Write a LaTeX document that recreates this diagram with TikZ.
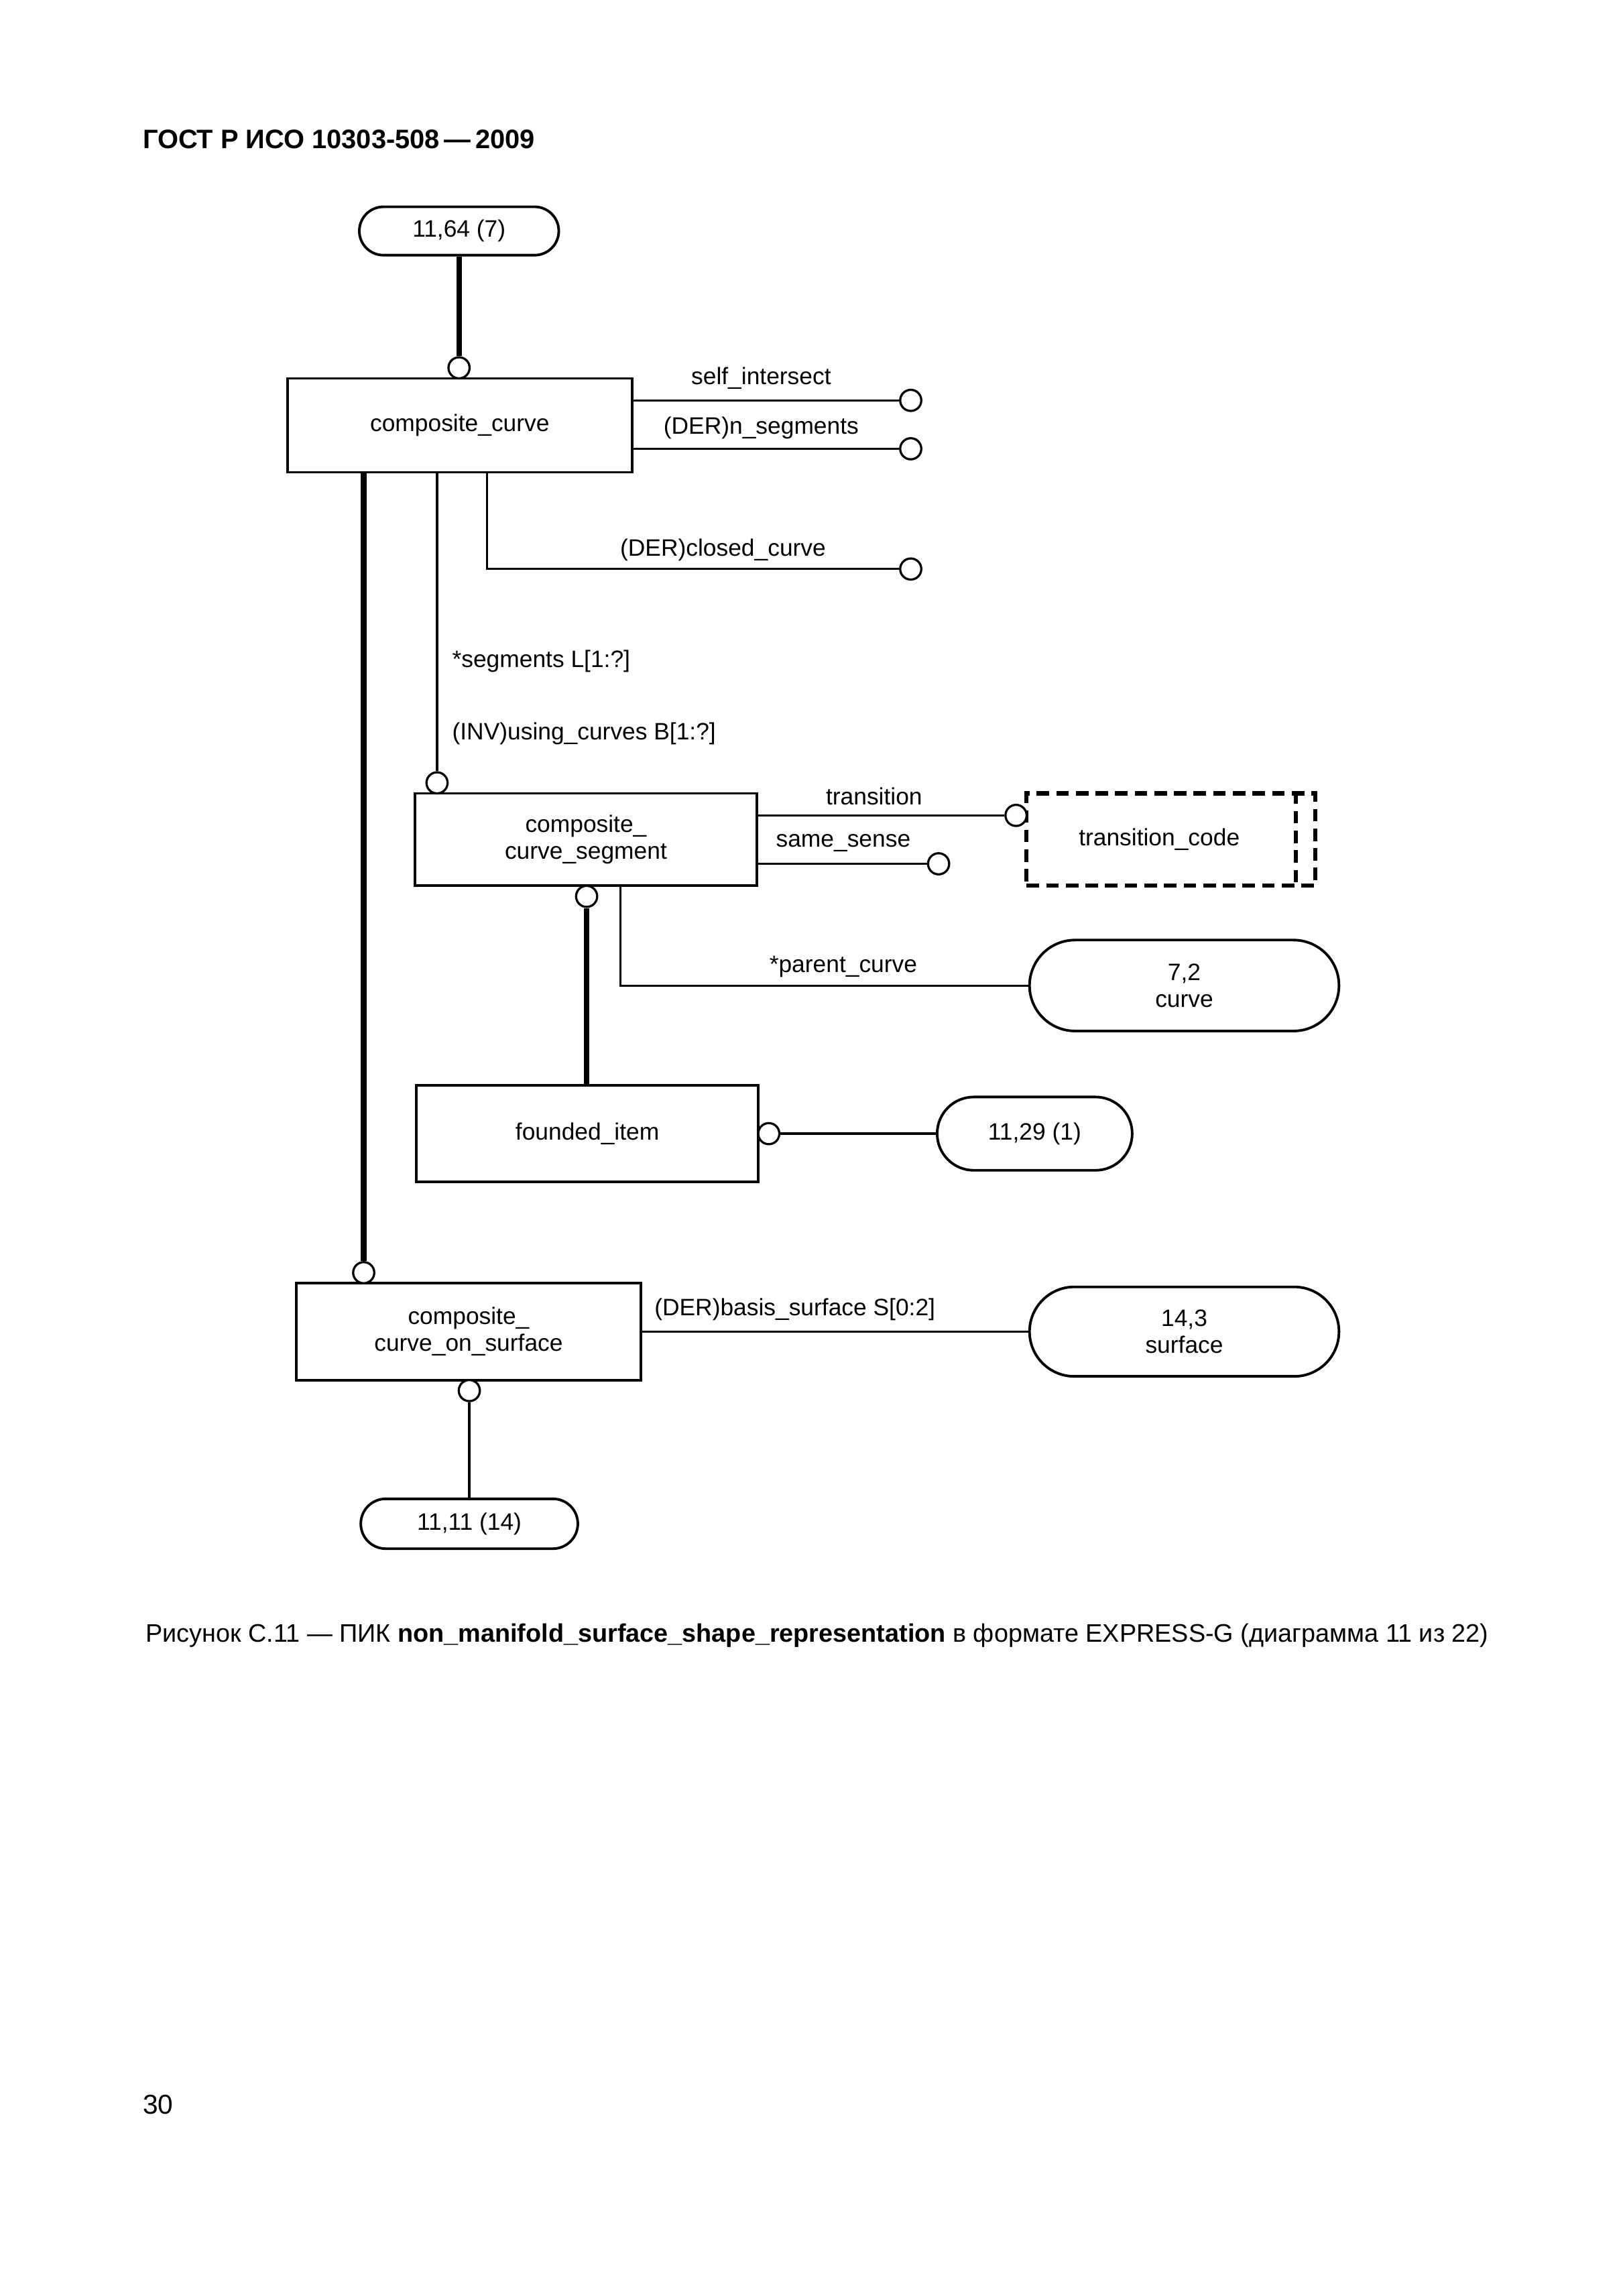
\documentclass[tikz,border=0pt]{standalone}
\usepackage{fontspec}
\setmainfont{Liberation Sans}
\usetikzlibrary{shapes.misc}
\def\u{0.538pt}
\newcommand\dgfont{\fontsize{8.7}{9.8}\selectfont}
\tikzset{
  ent/.style={draw, rectangle, line width=0.95pt, inner sep=0pt, align=center, font=\dgfont},
  stad/.style={draw, rounded rectangle, line width=0.95pt, inner sep=0pt, align=center, font=\dgfont},
  dbox/.style={draw, rectangle, line width=1.5pt, dash pattern=on 4.6pt off 2.6pt, inner sep=0pt, align=center, font=\dgfont},
  dline/.style={line width=1.5pt, dash pattern=on 4.6pt off 2.6pt},
  circ/.style={draw, circle, line width=0.8pt, minimum size=14.4*\u, inner sep=0pt, fill=white},
  rel/.style={line width=0.8pt},
  thk/.style={line width=2pt},
  lbl/.style={font=\dgfont, inner sep=0pt}
}
\begin{document}
\begin{tikzpicture}[x=\u, y=-\u]
\useasboundingbox (0,0) rectangle (1106.6,1565.6);
% header
\node[anchor=west, inner sep=0pt, font=\bfseries\fontsize{9.8}{12}\selectfont] (hdr) at (97,95) {ГОСТ Р ИСО 10303-508\,—\,2009};
% entities
\node[stad, minimum width=136*\u, minimum height=33*\u] (r1164) at (313,157.5) {11,64 (7)};
\node[ent, minimum width=235*\u, minimum height=64*\u] (cc) at (313.5,290) {composite\_curve};
\node[ent, minimum width=233*\u, minimum height=63*\u] (ccs) at (399.5,572.5) {composite\_\\curve\_segment};
\node[dbox, minimum width=197*\u, minimum height=63*\u] (tc) at (798.5,572.5) {transition\_code\hspace*{8.66pt}};
\draw[dline] ([xshift=-15*\u]tc.north east) -- ([xshift=-15*\u]tc.south east);
\node[stad, minimum width=211*\u, minimum height=62*\u] (cu) at (807.5,672) {7,2\\curve};
\node[ent, minimum width=233*\u, minimum height=66*\u] (fi) at (400.5,773) {founded\_item};
\node[stad, minimum width=133*\u, minimum height=50*\u] (r1129) at (705.5,773) {11,29 (1)};
\node[ent, minimum width=235*\u, minimum height=66*\u] (ccos) at (319.5,908) {composite\_\\curve\_on\_surface};
\node[stad, minimum width=211*\u, minimum height=61*\u] (surf) at (807.5,908) {14,3\\surface};
\node[stad, minimum width=148*\u, minimum height=34*\u] (r1111) at (320,1039) {11,11 (14)};
% 11,64 -> composite_curve
\node[circ] (c1) at (313,250.8) {};
\draw[thk] (r1164.south) -- (c1.north);
% self_intersect
\node[circ] (c2) at (621,273) {};
\draw[rel] (cc.east |- c2) -- (c2.west);
\node[lbl] (l2) at (519,258) {self\_intersect};
% n_segments
\node[circ] (c3) at (621,306) {};
\draw[rel] (cc.east |- c3) -- (c3.west);
\node[lbl] (l3) at (519,292) {(DER)n\_segments};
% closed_curve
\node[circ] (c4) at (621,388) {};
\coordinate (k4) at (332,388);
\draw[rel] (cc.south -| k4) -- (k4) -- (c4.west);
\node[lbl] (l4) at (493,375) {(DER)closed\_curve};
% segments
\node[circ] (c5) at (298,533.8) {};
\draw[rel] (cc.south -| c5) -- (c5.north);
\node[lbl, anchor=west] (l5a) at (308,451) {*segments L[1:?]};
\node[lbl, anchor=west] (l5b) at (308,500) {(INV)using\_curves B[1:?]};
% composite_curve -> composite_curve_on_surface
\node[circ] (c6) at (248,867.8) {};
\draw[thk] (cc.south -| c6) -- (c6.north);
% transition
\node[circ] (c7) at (692.8,556) {};
\draw[rel] (ccs.east |- c7) -- (c7.west);
\node[lbl] (l7) at (596,543) {transition};
% same_sense
\node[circ] (c8) at (640,589) {};
\draw[rel] (ccs.east |- c8) -- (c8.west);
\node[lbl] (l8) at (575,575) {same\_sense};
% parent_curve
\coordinate (k10) at (423,672);
\draw[rel] (ccs.south -| k10) -- (k10) -- (cu.west);
\node[lbl] (l10) at (575,659) {*parent\_curve};
% founded_item -> composite_curve_segment
\node[circ] (c9) at (400,611.2) {};
\draw[thk] (c9.south) -- (fi.north -| c9);
% founded_item -> 11,29
\node[circ] (c10) at (524.2,773) {};
\draw[rel] (c10.east) -- (r1129.west);
% basis_surface
\draw[rel] (ccos.east) -- (ccos.east -| surf.west);
\node[lbl] (l12) at (542,893) {(DER)basis\_surface S[0:2]};
% ccos -> 11,11
\node[circ] (c11) at (320,948.2) {};
\draw[rel] (c11.south) -- (r1111.north);
% caption
\node[anchor=west, inner sep=0pt, font=\fontsize{9.3}{11}\selectfont] (cap) at (99,1115) {Рисунок С.11 — ПИК \textbf{non\_manifold\_surface\_shape\_representation} в формате EXPRESS-G (диаграмма 11 из 22)};
\node[anchor=west, inner sep=0pt, font=\fontsize{10}{12}\selectfont] (pg) at (97,1435) {30};
\end{tikzpicture}
\end{document}
